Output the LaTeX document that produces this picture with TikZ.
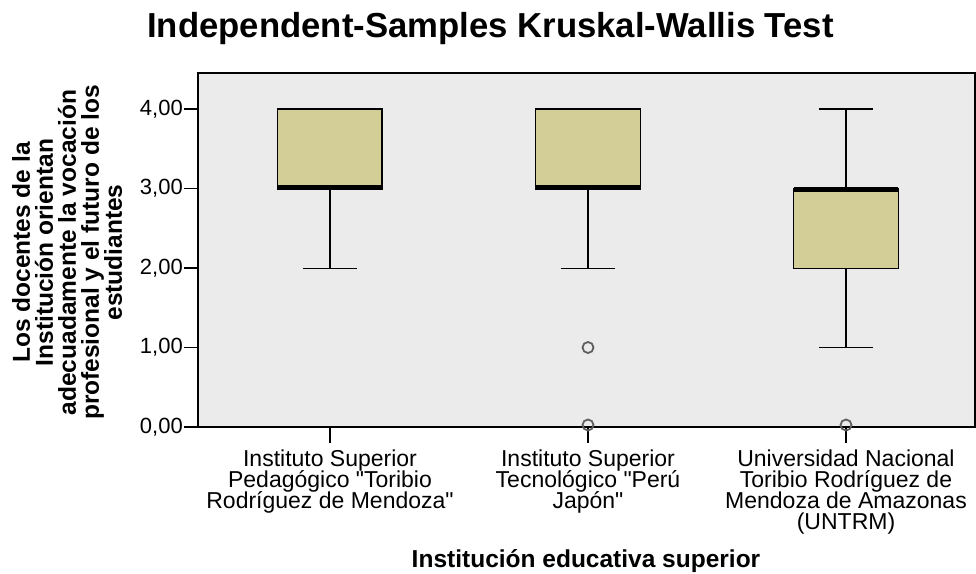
\documentclass[tikz,border=0pt]{standalone}
\usepackage{fontspec}
\setmainfont{Liberation Sans}[Ligatures=TeXOff]
\definecolor{plotbg}{RGB}{235,235,235}
\definecolor{boxfill}{RGB}{211,206,152}
\definecolor{outl}{RGB}{95,95,95}
\tikzset{
  boxst/.style={draw=black, line width=1.6pt, fill=boxfill},
  medst/.style={line width=5pt, black},
  whisk/.style={line width=1.6pt, black},
  outst/.style={draw=outl, line width=1.8pt},
  ticklab/.style={font=\fontsize{22}{22}\selectfont, anchor=east, inner sep=0pt},
  catlab/.style={font=\fontsize{23}{21}\selectfont, align=center, anchor=north, inner sep=0pt},
  axtitle/.style={font=\bfseries\fontsize{24.5}{24.5}\selectfont, inner sep=0pt, anchor=base},
}
\begin{document}
\setlength{\lineskiplimit}{-50pt}
\begin{tikzpicture}[x=1pt,y=-1pt]
\useasboundingbox (0,0) rectangle (976,573);
% title
\node[font=\bfseries\fontsize{34.7}{34.7}\selectfont, inner sep=0pt, anchor=base] (title) at (490.5,37) {Independent-Samples Kruskal-Wallis Test};
% plot area
\draw[fill=plotbg, draw=black, line width=1.4pt] (198,73) rectangle (975,427);
% y ticks
\foreach \v/\lab [count=\i] in {0/{0,00},1/{1,00},2/{2,00},3/{3,00},4/{4,00}} {
  \draw[line width=1.4pt] (184,427-79.5*\v) -- (198,427-79.5*\v);
  \node[ticklab] (yt\i) at (183,427-79.5*\v) {\lab};
}
% x ticks
\foreach \x [count=\i] in {330,588,846} {
  \draw[line width=1.4pt] (\x,427) -- (\x,443);
}
% group 1
\draw[whisk] (330,189) -- (330,268.5) (303,268.5) -- (357,268.5);
\draw[boxst] (277.5,109) rectangle (382,189);
\draw[medst] (278,187.5) -- (381.5,187.5);
% group 2
\draw[whisk] (588,189) -- (588,268.5) (561,268.5) -- (615,268.5);
\draw[boxst] (535.5,109) rectangle (640.5,189);
\draw[medst] (536,187.5) -- (640,187.5);
\draw[outst] (588,347.5) circle (5.5);
\draw[outst] (588,425) circle (5.5);
% group 3
\draw[whisk] (846,109) -- (846,189) (819,109) -- (873,109);
\draw[whisk] (846,268.5) -- (846,347.5) (819,347.5) -- (873,347.5);
\draw[boxst] (793.5,189) rectangle (898.5,268.5);
\draw[medst] (794,189) -- (898,189);
\draw[outst] (846,425) circle (5.5);
% category labels
\node[catlab] (c1) at (330,449.5) {Instituto Superior\\Pedagógico "Toribio\\Rodríguez de Mendoza"};
\node[catlab] (c2) at (588,449.5) {Instituto Superior\\Tecnológico "Perú\\Japón"};
\node[catlab] (c3) at (846,449.5) {Universidad Nacional\\Toribio Rodríguez de\\Mendoza de Amazonas\\(UNTRM)};
% axis titles
\node[axtitle] (xt) at (586,567.5) {Institución educativa superior};
\node[rotate=90, align=center, inner sep=0pt, font=\bfseries\fontsize{24.5}{23}\selectfont] (yl) at (67,252.5) {Los docentes de la\\Institución orientan\\adecuadamente la vocación\\profesional y el futuro de los\\estudiantes};
\end{tikzpicture}
\end{document}
